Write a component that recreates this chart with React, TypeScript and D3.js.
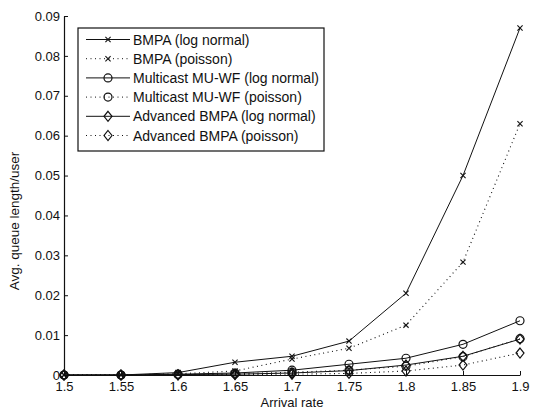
import { useEffect, useRef } from "react";
import * as d3 from "d3";

const arrivalRate = [1.5, 1.55, 1.6, 1.65, 1.7, 1.75, 1.8, 1.85, 1.9];
const bmpaLog = [0, 0, 0.0006, 0.0032, 0.0047, 0.0085, 0.0205, 0.05, 0.087];
const bmpaPoisson = [0, 0, 0.0003, 0.001, 0.004, 0.0067, 0.0125, 0.0283, 0.063];
const multiLog = [0, 0, 0.0002, 0.0005, 0.0012, 0.0027, 0.0042, 0.0077, 0.0136];
const multiPoisson = [0, 0, 0.0001, 0.0003, 0.0007, 0.0012, 0.0022, 0.0046, 0.0091];
const advLog = [0, 0, 0.0001, 0.0002, 0.0005, 0.0011, 0.0025, 0.0047, 0.009];
const advPoisson = [0, 0, 0, 0.0001, 0.0002, 0.0004, 0.001, 0.0025, 0.0055];

const xTicks = [1.5, 1.55, 1.6, 1.65, 1.7, 1.75, 1.8, 1.85, 1.9];
const yTicks = [0, 0.01, 0.02, 0.03, 0.04, 0.05, 0.06, 0.07, 0.08, 0.09];

const series = [
  { name: "BMPA (log normal)", values: bmpaLog, marker: "x", dotted: false },
  { name: "BMPA (poisson)", values: bmpaPoisson, marker: "x", dotted: true },
  { name: "Multicast MU-WF (log normal)", values: multiLog, marker: "o", dotted: false },
  { name: "Multicast MU-WF (poisson)", values: multiPoisson, marker: "o", dotted: true },
  { name: "Advanced BMPA (log normal)", values: advLog, marker: "d", dotted: false },
  { name: "Advanced BMPA (poisson)", values: advPoisson, marker: "d", dotted: true },
];

const INK = "#111";
const FONT = "'Liberation Sans', Arial, sans-serif";

function drawMarker(g, type, cx, cy) {
  if (type === "x") {
    const s = 2.6;
    g.append("path")
      .attr("d", `M${cx - s},${cy - s}L${cx + s},${cy + s}M${cx - s},${cy + s}L${cx + s},${cy - s}`)
      .attr("stroke", INK).attr("stroke-width", 1.1).attr("fill", "none");
  } else if (type === "o") {
    g.append("circle").attr("cx", cx).attr("cy", cy).attr("r", 4)
      .attr("stroke", INK).attr("stroke-width", 1.2).attr("fill", "none");
  } else {
    g.append("path")
      .attr("d", `M${cx},${cy - 5}L${cx + 4},${cy}L${cx},${cy + 5}L${cx - 4},${cy}Z`)
      .attr("stroke", INK).attr("stroke-width", 1.2).attr("fill", "none");
  }
}

export default function App() {
  const svgRef = useRef(null);

  useEffect(() => {
    const W = 539, H = 413;
    const m = { top: 16, right: 19, bottom: 38, left: 64 };
    const iW = W - m.left - m.right;
    const iH = H - m.top - m.bottom;

    const svg = d3.select(svgRef.current);
    svg.selectAll("*").remove();
    svg.append("rect").attr("width", W).attr("height", H).attr("fill", "#fff");

    const g = svg.append("g").attr("transform", `translate(${m.left},${m.top})`);

    const x = d3.scaleLinear().domain([1.5, 1.9]).range([0, iW]);
    const y = d3.scaleLinear().domain([0, 0.09]).range([iH, 0]);

    // Axes (left + bottom only, ticks pointing inward)
    const styleAxis = ax => {
      ax.select(".domain").attr("stroke", INK).attr("stroke-width", 1.2);
      ax.selectAll(".tick line").attr("stroke", INK);
      ax.selectAll("text").attr("fill", INK).attr("font-size", "13px").attr("font-family", FONT);
    };

    g.append("g").attr("transform", `translate(0,${iH})`)
      .call(d3.axisBottom(x).tickValues(xTicks).tickSizeInner(-4).tickSizeOuter(0).tickPadding(7)
        .tickFormat(d => String(d)))
      .call(styleAxis)
      .attr("font-family", FONT);

    g.append("g")
      .call(d3.axisLeft(y).tickValues(yTicks).tickSizeInner(-4).tickSizeOuter(0).tickPadding(4)
        .tickFormat(d => (d === 0 ? "0" : d3.format(".2f")(d))))
      .call(styleAxis)
      .attr("font-family", FONT);

    // Series
    const line = d3.line().x((d, i) => x(arrivalRate[i])).y(d => y(d));
    series.forEach(s => {
      g.append("path")
        .datum(s.values)
        .attr("fill", "none")
        .attr("stroke", INK)
        .attr("stroke-width", s.dotted ? 1.1 : 1)
        .attr("stroke-dasharray", s.dotted ? "1,3.5" : null)
        .attr("d", line);
      s.values.forEach((v, i) => drawMarker(g, s.marker, x(arrivalRate[i]), y(v)));
    });

    // Axis titles
    svg.append("text")
      .attr("x", m.left + iW / 2).attr("y", 407)
      .attr("text-anchor", "middle")
      .attr("font-family", FONT).attr("font-size", "13px").attr("fill", INK)
      .text("Arrival rate");

    svg.append("text")
      .attr("transform", "translate(19,221) rotate(-90)")
      .attr("text-anchor", "middle")
      .attr("font-family", FONT).attr("font-size", "13.5px").attr("fill", INK)
      .text("Avg. queue length/user");

    // Legend
    const lg = svg.append("g").attr("transform", "translate(78,28)");
    lg.append("rect").attr("width", 246).attr("height", 123)
      .attr("fill", "#fff").attr("stroke", INK).attr("stroke-width", 1.2);
    series.forEach((s, i) => {
      const ly = 11.5 + i * 19.2;
      lg.append("line")
        .attr("x1", 8).attr("x2", 52).attr("y1", ly).attr("y2", ly)
        .attr("stroke", INK).attr("stroke-width", 1)
        .attr("stroke-dasharray", s.dotted ? "1,3.5" : null);
      drawMarker(lg, s.marker, 30, ly);
      lg.append("text")
        .attr("x", 55).attr("y", ly + 5)
        .attr("font-family", FONT).attr("font-size", "14px").attr("fill", INK)
        .text(s.name);
    });
  }, []);

  return (
    <svg ref={svgRef} width={539} height={413}
      style={{ position: "absolute", left: 0, top: 0, display: "block" }} />
  );
}
